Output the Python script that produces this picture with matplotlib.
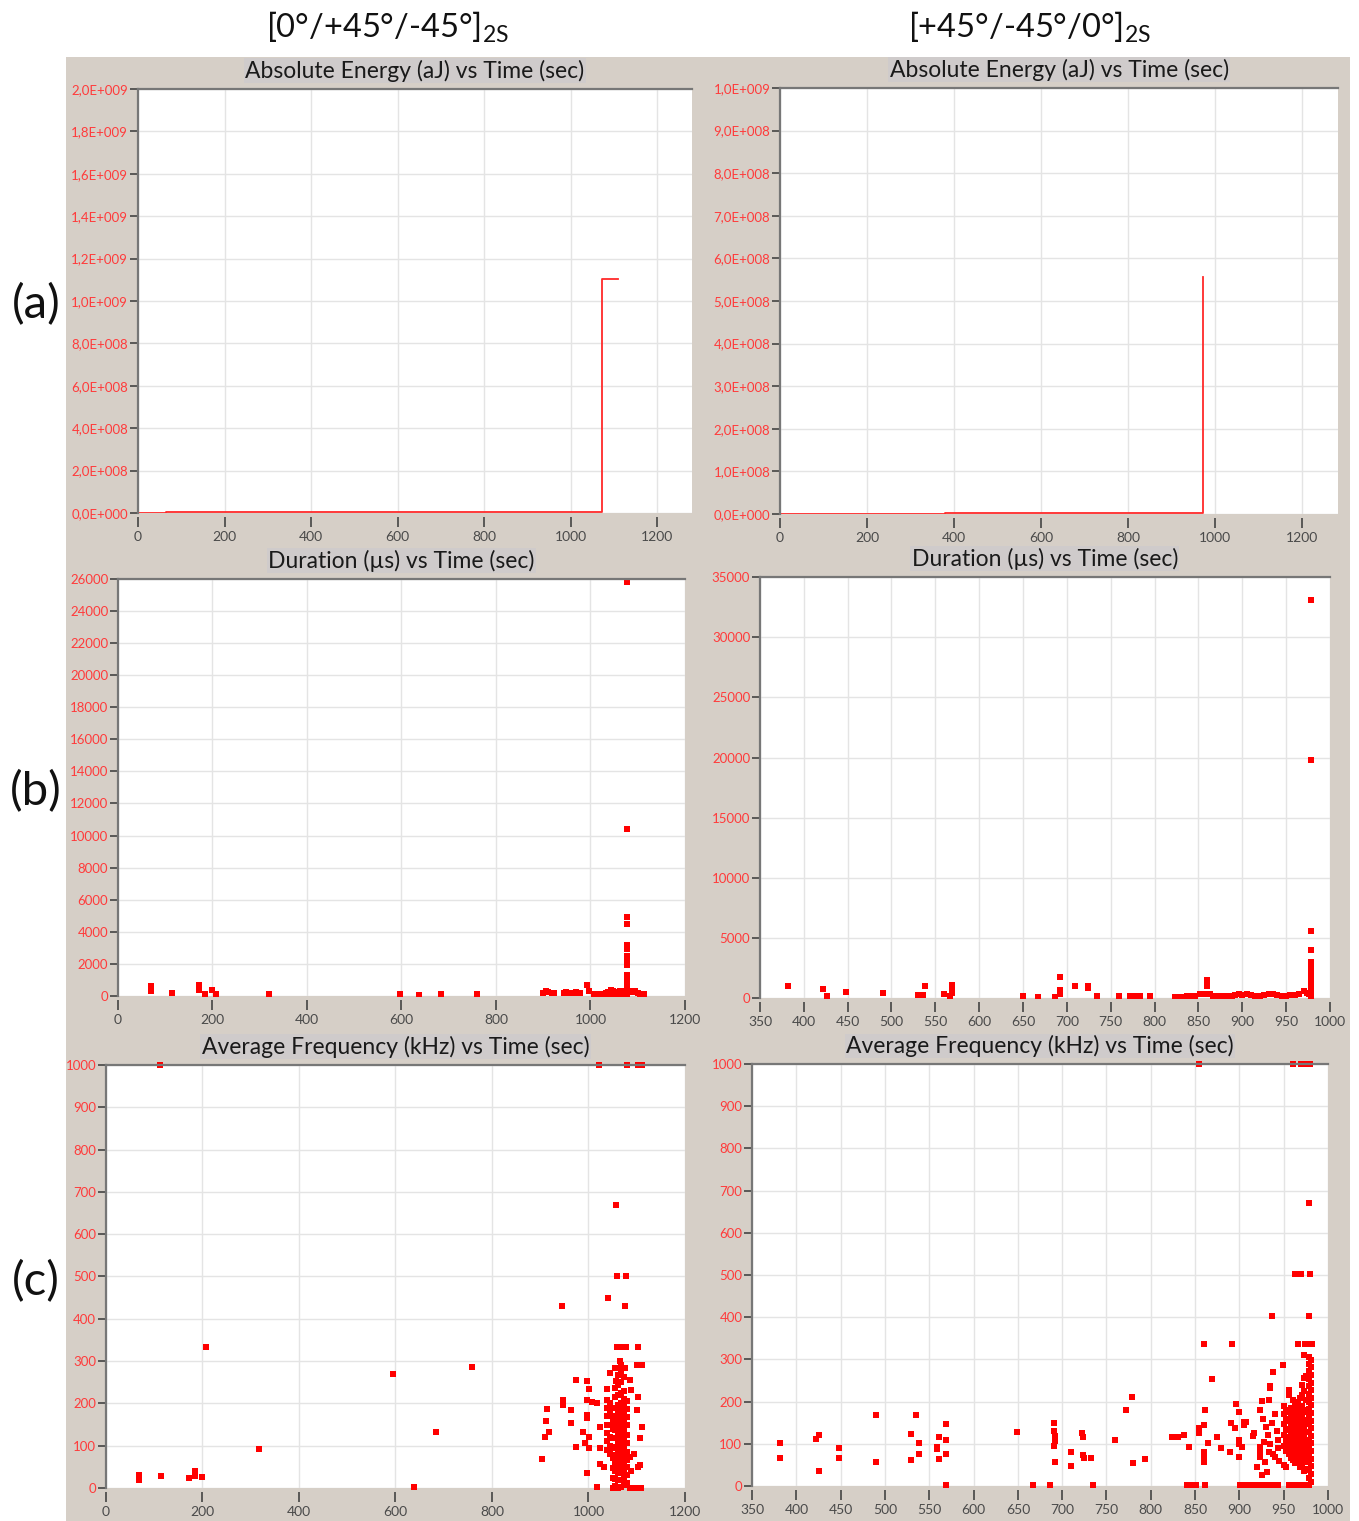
import matplotlib.pyplot as plt
import matplotlib.patches as mpatches
from matplotlib.ticker import FuncFormatter, MultipleLocator

plt.rcParams['font.family'] = ['Lato', 'DejaVu Sans']

# ---- data ----
# (a) cumulative absolute energy (aJ)
energy_left_t = [0, 65, 65, 1073, 1073, 1108]
energy_left_e = [0, 0, 5e6, 5e6, 1.104e9, 1.104e9]
energy_right_t = [0, 380, 380, 972, 972]
energy_right_e = [0, 0, 3e6, 3e6, 5.56e8]

# (b) duration (us)
dur_left_t = [69, 69, 114, 172, 172, 184, 200, 208, 320, 596, 638, 683, 759,
              900, 905, 910, 918, 922, 943, 948, 952, 965, 970, 978, 992, 997,
              1007, 1012, 1017, 1022, 1027, 1032, 1037, 1043, 1047, 1052, 1057, 1062, 1067, 1071,
              1010, 1020, 1030, 1040, 1050, 1060, 1070,
              1078, 1078, 1078, 1078, 1078, 1078, 1078, 1078, 1078, 1078, 1078, 1078, 1078, 1078, 1078, 1078,
              1085, 1090, 1095, 1100, 1105, 1108, 1113]
dur_left_d = [600, 300, 200, 700, 400, 150, 400, 150, 150, 150, 50, 100, 100,
              200, 300, 250, 200, 200, 200, 250, 200, 200, 250, 200, 700, 300,
              150, 100, 150, 100, 150, 200, 250, 400, 300, 200, 250, 300, 250, 300,
              50, 50, 50, 50, 50, 50, 50,
              25800, 10400, 4900, 4500, 3200, 2900, 2500, 2200, 1900, 1300, 1000, 800, 600, 400, 200, 50,
              300, 250, 300, 200, 150, 100, 100]

dur_right_t = [382, 422, 426, 448, 490, 530, 536, 538, 560, 567, 569, 569, 569, 650, 667, 686,
               692, 692, 692, 709, 724, 724, 734, 760, 772, 778, 783, 795, 823, 828, 832,
               837, 842, 846, 852, 856, 860, 860, 863, 867, 872, 877, 884,
               888, 892, 896, 900, 905, 910, 915, 920, 925, 930, 935, 940, 945, 950, 955, 960, 965, 970, 974, 976,
               978, 978, 978, 978, 978, 978, 978, 978, 978, 978, 978, 978, 978]
dur_right_d = [1020, 720, 200, 500, 400, 250, 250, 1000, 300, 200, 1100, 700, 400, 150, 100, 100,
               1770, 650, 300, 1000, 1000, 800, 150, 150, 150, 150, 150, 150, 100, 100, 100,
               200, 200, 200, 300, 300, 1500, 1000, 300, 150, 150, 150, 150,
               200, 250, 300, 250, 300, 250, 200, 150, 250, 300, 350, 250, 200, 200, 250, 250, 300, 600, 400, 300,
               33080, 19780, 5570, 4000, 3000, 2600, 2200, 1800, 1400, 1000, 700, 400, 100]

# (c) average frequency (kHz)
freq_left_t = [68, 68, 113, 173, 184, 184, 200, 207, 318, 595, 638, 683, 759, 112,
               1022, 1079, 1103, 1110, 1058, 1060, 1078, 1041, 945, 1076,
               1059, 1065, 1071, 1077, 1103, 1065, 1100, 1111, 1045, 1055, 1076, 974, 998, 1002,
               1058, 1086, 1038, 1089, 1103, 948, 948, 915, 964, 997, 1007, 1018, 1101, 911,
               997, 997, 964, 919, 910, 989, 1001, 1024, 1110, 1107, 993, 974, 1002, 1024,
               1045, 903, 1024, 1032, 998, 1107, 1103, 1086, 1018,
               1038, 1038, 1038, 1038, 1038, 1038, 1038,
               1044, 1044, 1044, 1044, 1044, 1044,
               1050, 1050, 1050, 1050, 1050, 1050, 1050, 1050, 1050,
               1055, 1055, 1055, 1055, 1055, 1055, 1055, 1055, 1055, 1055, 1055, 1055, 1055,
               1062, 1062, 1062, 1062, 1062, 1062, 1062, 1062, 1062, 1062, 1062, 1062, 1062, 1062, 1062,
               1068, 1068, 1068, 1068, 1068, 1068, 1068, 1068, 1068, 1068, 1068, 1068, 1068, 1068, 1068, 1068,
               1074, 1074, 1074, 1074, 1074, 1074, 1074, 1074, 1074, 1074, 1074, 1074, 1074, 1074,
               1080, 1080, 1080, 1080, 1080, 1080, 1080, 1080, 1080, 1080, 1080,
               1086, 1092, 1097, 1102, 1108, 1088, 1095]
freq_left_f = [30, 20, 28, 24, 41, 29, 27, 334, 93, 269, 2, 132, 286, 1000,
               1000, 1000, 1000, 1000, 669, 501, 501, 448, 430, 430,
               334, 334, 334, 334, 334, 300, 291, 291, 273, 284, 284, 255, 253, 235,
               254, 255, 235, 232, 216, 208, 196, 186, 184, 208, 204, 200, 184, 159,
               172, 165, 153, 133, 121, 133, 121, 145, 145, 118, 107, 98, 94, 94,
               94, 68, 57, 50, 36, 54, 50, 74, 2,
               208, 190, 170, 150, 130, 110, 90,
               200, 175, 150, 120, 100, 80,
               0, 24, 48, 71, 95, 118, 140, 163, 188,
               5, 22, 41, 58, 77, 96, 118, 137, 152, 171, 190, 214, 236,
               0, 18, 35, 52, 70, 88, 104, 123, 141, 160, 178, 197, 219, 243, 268,
               3, 20, 39, 57, 74, 92, 110, 129, 146, 165, 183, 201, 224, 250, 276, 290,
               8, 26, 45, 63, 81, 99, 116, 134, 155, 173, 192, 210, 229, 262,
               12, 31, 49, 66, 85, 107, 126, 148, 168, 187, 205,
               0, 0, 0, 0, 0, 40, 80]

freq_right_t = [381.6, 381.6, 422, 426, 426, 448.5, 448.5, 490, 490, 535, 529, 538, 538, 529,
                561, 559, 561, 568.5, 568.5, 568.5, 568.5, 559, 649, 666.6, 686, 691, 691, 692,
                692, 691, 692, 710, 710, 722, 724, 723, 725, 733, 734.7, 760, 772, 779, 780, 794,
                824, 831, 838, 843, 841, 846, 851, 854, 854, 854.5, 860, 861, 860, 860, 860, 860,
                861, 864, 869, 874.6, 879, 889.6, 891.5, 890.7, 896, 899, 899, 899, 903, 900, 895,
                904.7, 904.7, 908, 901, 906, 911, 916, 920, 915, 917, 920, 923, 923, 923, 925, 925,
                923, 925, 930.8, 929,
                927, 930, 932, 935, 937, 940, 942, 944, 933, 938, 943, 928,
                933, 934, 934, 938, 936.6, 948.8, 930, 935, 940, 944, 940, 945, 950, 953,
                955.5, 955.5, 961, 965.6, 973.6, 978, 982, 972.5, 978,
                960, 970, 975, 980, 978.7, 963, 970, 980,
                956, 961, 966, 972,
                950, 950, 950, 950, 950,
                953, 953, 953, 953, 953,
                956, 956, 956, 956, 956, 956,
                958, 958, 958, 958, 958, 958, 958,
                961, 961, 961, 961, 961, 961, 961,
                963, 963, 963, 963, 963, 963, 963, 963,
                966, 966, 966, 966, 966, 966, 966, 966,
                968, 968, 968, 968, 968, 968, 968, 968, 968,
                971, 971, 971, 971, 971, 971, 971, 971, 971, 971,
                973, 973, 973, 973, 973, 973, 973, 973, 973, 973,
                975, 975, 975, 975, 975, 975, 975, 975, 975,
                978, 978, 978, 978, 978, 978, 978, 978, 978, 978, 978, 978, 978, 978, 978, 978, 978, 978,
                981, 981, 981, 981, 981, 981, 981, 981, 981, 981, 981, 981, 981, 981, 981, 981, 981]
freq_right_f = [103, 67, 111, 121, 36, 89, 67, 168, 58, 168, 123, 103, 77, 61,
                117, 93, 63, 147, 109, 75, 2, 88, 129, 2, 2, 149, 130, 118,
                107, 96, 58, 80, 47, 126, 117, 73, 67, 67, 2, 109, 180, 211, 55, 64,
                115, 115, 121, 93, 2, 2, 2, 137, 125, 1000, 336, 180, 145, 81, 70, 58,
                2, 101, 254, 115, 89, 81, 336, 149, 194, 175, 69, 100, 93, 108, 137,
                152, 145, 152, 2, 2, 2, 2, 2, 118, 125, 46, 93, 80, 69, 26, 202,
                180, 2, 34, 58,
                160, 140, 120, 100, 150, 170, 130, 110, 80, 75, 90, 105,
                205, 237, 232, 271, 404, 288, 2, 2, 2, 2, 69, 60, 50, 46,
                227, 216, 204, 336, 336, 336, 336, 310, 404,
                1000, 1000, 1000, 1000, 670, 502, 502, 502,
                2, 2, 2, 2,
                95, 122, 148, 170, 190,
                84, 108, 133, 160, 181,
                75, 95, 115, 135, 155, 175,
                66, 86, 106, 127, 146, 166, 186,
                62, 82, 102, 122, 142, 162, 182,
                54, 72, 92, 112, 132, 152, 171, 193,
                58, 78, 98, 118, 138, 158, 178, 198,
                45, 64, 84, 104, 124, 144, 164, 186, 208,
                50, 70, 90, 110, 130, 150, 170, 190, 215, 240,
                35, 56, 76, 96, 117, 137, 157, 180, 226, 255,
                40, 63, 88, 107, 128, 151, 176, 203, 260,
                2, 20, 38, 56, 74, 92, 110, 128, 146, 164, 182, 200, 218, 236, 254, 272, 290, 306,
                10, 29, 47, 65, 83, 101, 119, 137, 155, 173, 191, 209, 227, 245, 263, 281, 298]

BEIGE = '#d6cfc7'
TITLE_BOX = '#cfcbcb'
RED = '#ff0000'
TICK_RED = '#ff3b3b'
TICK_GRAY = '#4a4a4a'


def sci_label(v, pos):
    if v == 0:
        return '0,0E+000'
    exp = 0
    m = v
    while abs(m) >= 10:
        m /= 10
        exp += 1
    return f'{m:.1f}E+{exp:03d}'.replace('.', ',')


def style_axes(ax, title, xlim, ylim, xstep, ystep):
    ax.set_xlim(*xlim)
    ax.set_ylim(*ylim)
    ax.xaxis.set_major_locator(MultipleLocator(xstep))
    ax.yaxis.set_major_locator(MultipleLocator(ystep))
    ax.set_facecolor('white')
    ax.grid(True, color='#e4e4e4', linewidth=1.0)
    ax.set_axisbelow(True)
    for side in ['right', 'bottom']:
        ax.spines[side].set_visible(False)
    ax.spines['bottom'].set_position(('outward', 3))
    for side in ['top', 'left']:
        ax.spines[side].set_color('#777777')
        ax.spines[side].set_linewidth(1.6)
    ax.tick_params(axis='y', direction='out', length=6, width=1.2, color='#444444',
                   labelsize=9.5, labelcolor=TICK_RED, pad=1)
    ax.tick_params(axis='x', direction='out', length=7, width=1.2, color='#444444',
                   labelsize=10, labelcolor=TICK_GRAY, pad=3)
    ax.set_title(title, fontsize=16.5, color='#1a1a1a', pad=8,
                 bbox=dict(facecolor=TITLE_BOX, edgecolor='none', pad=1.0))


fig = plt.figure(figsize=(13.59, 15.21), dpi=100)
fig.patches.append(mpatches.Rectangle((66 / 1359, 0), (1350 - 66) / 1359, 1 - 57 / 1521,
                                      transform=fig.transFigure, facecolor=BEIGE,
                                      edgecolor='none', zorder=-5))

ax_al = fig.add_axes([0.1015, 0.6627, 0.4077, 0.2788])
ax_ar = fig.add_axes([0.5740, 0.6621, 0.4106, 0.2801])
ax_bl = fig.add_axes([0.0868, 0.3452, 0.4172, 0.2742])
ax_br = fig.add_axes([0.5592, 0.3438, 0.4194, 0.2768])
ax_cl = fig.add_axes([0.0780, 0.0217, 0.4260, 0.2781])
ax_cr = fig.add_axes([0.5534, 0.0230, 0.4238, 0.2774])

# (a)
ax_al.plot(energy_left_t, energy_left_e, color='#ff2a2a', linewidth=1.3)
style_axes(ax_al, 'Absolute Energy (aJ) vs Time (sec)', (0, 1280), (0, 2e9), 200, 2e8)
ax_al.yaxis.set_major_formatter(FuncFormatter(sci_label))
ax_ar.plot(energy_right_t, energy_right_e, color='#ff2a2a', linewidth=1.3)
style_axes(ax_ar, 'Absolute Energy (aJ) vs Time (sec)', (0, 1283), (0, 1e9), 200, 1e8)
ax_ar.yaxis.set_major_formatter(FuncFormatter(sci_label))
for a in (ax_al, ax_ar):
    a.tick_params(axis='y', labelsize=9.5)

# (b)
ax_bl.plot(dur_left_t, dur_left_d, 's', color=RED, markersize=4.6, markeredgewidth=0)
style_axes(ax_bl, 'Duration (µs) vs Time (sec)', (0, 1200), (0, 26000), 200, 2000)
ax_br.plot(dur_right_t, dur_right_d, 's', color=RED, markersize=4.6, markeredgewidth=0)
style_axes(ax_br, 'Duration (µs) vs Time (sec)', (350, 1000), (0, 35000), 50, 5000)

# (c)
ax_cl.plot(freq_left_t, freq_left_f, 's', color=RED, markersize=4.6, markeredgewidth=0,
           clip_on=False)
style_axes(ax_cl, 'Average Frequency (kHz) vs Time (sec)', (0, 1200), (0, 1000), 200, 100)
ax_cr.plot(freq_right_t, freq_right_f, 's', color=RED, markersize=4.6, markeredgewidth=0,
           clip_on=False)
style_axes(ax_cr, 'Average Frequency (kHz) vs Time (sec)', (350, 1000), (0, 1000), 50, 100)

# column headers and row labels
fig.text(387 / 1359, 1 - 27 / 1521, r'[0°/+45°/-45°]$_{\mathregular{2S}}$',
         fontsize=23.5, ha='center', va='center', color='#111111')
fig.text(1029 / 1359, 1 - 27 / 1521, r'[+45°/-45°/0°]$_{\mathregular{2S}}$',
         fontsize=23.5, ha='center', va='center', color='#111111')
for label, ypx in [('(a)', 305), ('(b)', 792), ('(c)', 1282)]:
    fig.text(36 / 1359, 1 - ypx / 1521, label, fontsize=34, ha='center', va='center',
             color='#111111')

fig.savefig('out.png', dpi=100)
